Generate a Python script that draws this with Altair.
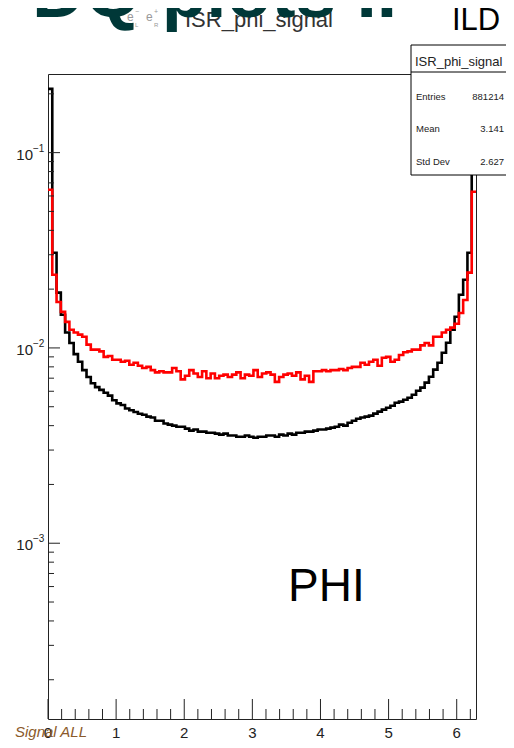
import altair as alt
import numpy as np
import pandas as pd

# ---------------- data ----------------
PHI_MAX = 2 * np.pi
N_BINS = 100

black_hist = [0.212, 0.0307, 0.0192, 0.0148, 0.0120, 0.0106, 0.0093, 0.0085, 0.0077, 0.0071,
              0.0066, 0.0063, 0.0061, 0.0059, 0.0057, 0.0054, 0.0052, 0.0051, 0.0049, 0.0048,
              0.0047, 0.0046, 0.00455, 0.00445, 0.0044, 0.00424, 0.00424, 0.0041, 0.00405, 0.0040,
              0.00395, 0.00395, 0.00386, 0.00377, 0.00382, 0.00373, 0.00373, 0.00368, 0.00368, 0.00364,
              0.0036, 0.00364, 0.00356, 0.00356, 0.00351, 0.00351, 0.00356, 0.00351, 0.00347, 0.00351,
              0.00351, 0.00356, 0.00356, 0.00351, 0.0036, 0.00356, 0.00364, 0.0036, 0.00368, 0.00368,
              0.00373, 0.00373, 0.00377, 0.00382, 0.00382, 0.00386, 0.00391, 0.00395, 0.00405, 0.0040,
              0.00414, 0.00424, 0.00434, 0.0044, 0.00445, 0.0045, 0.00461, 0.00472, 0.00483, 0.00494,
              0.00506, 0.00524, 0.00531, 0.00543, 0.00556, 0.00576, 0.00604, 0.00626, 0.00664, 0.00712,
              0.00774, 0.0084, 0.00945, 0.01063, 0.01239, 0.01444, 0.01872, 0.02234, 0.0307, 0.202]

red_hist = [0.0645, 0.0237, 0.0172, 0.0153, 0.0136, 0.0124, 0.0120, 0.0117, 0.0114, 0.0104,
            0.0098, 0.0098, 0.0096, 0.0090, 0.0091, 0.0087, 0.0087, 0.0085, 0.0086, 0.0082,
            0.0084, 0.0081, 0.0079, 0.0080, 0.0077, 0.0075, 0.0076, 0.0075, 0.0075, 0.0079,
            0.0076, 0.0069, 0.0072, 0.0077, 0.0074, 0.0071, 0.0076, 0.0070, 0.0074, 0.0070,
            0.0072, 0.0073, 0.0071, 0.0073, 0.0075, 0.0070, 0.0073, 0.0072, 0.0077, 0.0071,
            0.0074, 0.0075, 0.0073, 0.0067, 0.0071, 0.0073, 0.0074, 0.0072, 0.0075, 0.0069,
            0.0072, 0.0067, 0.0076, 0.0076, 0.0077, 0.0076, 0.0077, 0.0077, 0.0078, 0.0077,
            0.0079, 0.0080, 0.0080, 0.0084, 0.0082, 0.0085, 0.0087, 0.0081, 0.0089, 0.0090,
            0.0085, 0.0087, 0.0092, 0.0095, 0.0096, 0.0098, 0.0098, 0.0103, 0.0106, 0.0103,
            0.0114, 0.0114, 0.0120, 0.0124, 0.0127, 0.0133, 0.0151, 0.0176, 0.0243, 0.0631]

x_tick_labels = [0, 1, 2, 3, 4, 5, 6]
x_minor_ticks = [round(0.2 * k, 1) for k in range(32) if k % 5 != 0]
y_major_ticks = [0.001, 0.01, 0.1]
y_exponents = ["\u22123", "\u22122", "\u22121"]
y_minor_ticks = [m * 10.0 ** e for e in (-4, -3, -2, -1) for m in range(2, 10)]
Y_DOMAIN = [1.259e-4, 0.2527]
y_minor_ticks = [v for v in y_minor_ticks if Y_DOMAIN[0] < v < Y_DOMAIN[1]]

stats_names = ["Entries", "Mean", "Std Dev"]
stats_values = ["881214", "3.141", "2.627"]

# ---------------- layout ----------------
W, H = 428, 645
FONT = "Liberation Sans"
edges = np.linspace(0, PHI_MAX, N_BINS + 1)

def step_frame(vals):
    return pd.DataFrame({"phi": edges, "val": list(vals) + [vals[-1]]})

xs = alt.Scale(domain=[0, PHI_MAX], nice=False, zero=False)
ys = alt.Scale(type="log", domain=Y_DOMAIN, nice=False)

def hist_layer(vals, color):
    return alt.Chart(step_frame(vals)).mark_line(
        interpolate="step-after", color=color, strokeWidth=2.6, clip=True
    ).encode(x=alt.X("phi:Q", scale=xs, axis=None), y=alt.Y("val:Q", scale=ys, axis=None))

def label(text, x, y, size, color="#000", align="left", baseline="alphabetic",
          weight="normal", style="normal"):
    return alt.Chart(pd.DataFrame({"t": [text]})).mark_text(
        align=align, baseline=baseline, fontSize=size, color=color,
        fontWeight=weight, fontStyle=style, font=FONT
    ).encode(x=alt.value(x), y=alt.value(y), text="t:N")

black = hist_layer(black_hist, "#000000")
red = hist_layer(red_hist, "#ff0000")

tick_color = "#222"
x_major = alt.Chart(pd.DataFrame({"v": x_tick_labels})).mark_rule(color=tick_color, strokeWidth=1).encode(
    x=alt.X("v:Q", scale=xs, axis=None), y=alt.value(H), y2=alt.value(H - 20))
x_minor = alt.Chart(pd.DataFrame({"v": x_minor_ticks})).mark_rule(color=tick_color, strokeWidth=1).encode(
    x=alt.X("v:Q", scale=xs, axis=None), y=alt.value(H), y2=alt.value(H - 10))
y_major = alt.Chart(pd.DataFrame({"v": y_major_ticks})).mark_rule(color=tick_color, strokeWidth=1).encode(
    y=alt.Y("v:Q", scale=ys, axis=None), x=alt.value(0), x2=alt.value(12))
y_minor = alt.Chart(pd.DataFrame({"v": y_minor_ticks})).mark_rule(color=tick_color, strokeWidth=1).encode(
    y=alt.Y("v:Q", scale=ys, axis=None), x=alt.value(0), x2=alt.value(6))

x_labels = alt.Chart(pd.DataFrame({"v": x_tick_labels})).mark_text(
    fontSize=15, font=FONT, color="#222", baseline="middle", align="center"
).encode(x=alt.X("v:Q", scale=xs, axis=None), y=alt.value(H + 14), text="v:N")

ylab_df = pd.DataFrame({"v": y_major_ticks, "base": ["10"] * 3, "exp": y_exponents})
y_base = alt.Chart(ylab_df).mark_text(
    fontSize=15, font=FONT, color="#222", align="right", baseline="middle", dy=2
).encode(y=alt.Y("v:Q", scale=ys, axis=None), x=alt.value(-15), text="base:N")
y_exp = alt.Chart(ylab_df).mark_text(
    fontSize=10, font=FONT, color="#222", align="left", baseline="middle", dy=-4
).encode(y=alt.Y("v:Q", scale=ys, axis=None), x=alt.value(-15), text="exp:N")

# stats box
box = alt.Chart(pd.DataFrame({"t": [0]})).mark_rect(fill="white", stroke="#000", strokeWidth=1).encode(
    x=alt.value(363), x2=alt.value(475), y=alt.value(-29), y2=alt.value(101))
box_line = alt.Chart(pd.DataFrame({"t": [0]})).mark_rule(color="#000", strokeWidth=1).encode(
    x=alt.value(363), x2=alt.value(475), y=alt.value(-2))
stats_df = pd.DataFrame({"name": stats_names, "val": stats_values, "yy": [23, 55, 88]})
stats_n = alt.Chart(stats_df).mark_text(fontSize=9.5, font=FONT, color="#222", align="left").encode(
    x=alt.value(368), y=alt.Y("yy:Q", scale=None), text="name:N")
stats_v = alt.Chart(stats_df).mark_text(fontSize=9.5, font=FONT, color="#222", align="right").encode(
    x=alt.value(456), y=alt.Y("yy:Q", scale=None), text="val:N")
box_head = label("ISR_phi_signal", 367, -8, 13, color="#222")

title = label("ISR_phi_signal", 137, -47, 22, color="#333")
e1 = label("e", 79, -53, 12, color="#999")
e1s = label("L", 87, -47, 6, color="#999")
e1p = label("\u2212", 87, -60, 7, color="#999")
e2 = label("e", 98, -53, 12, color="#999")
e2s = label("R", 106, -47, 6, color="#999")
e2p = label("+", 106, -60, 7, color="#999")
ild = label("ILD", 404, -44, 31)
phi = label("PHI", 240, 527, 46)
sig = label("Signal ALL", -33, 663, 15, color="#8b5a2b", style="italic")
dq = label("DQ plots II", -16, -57, 73, color="#003838", weight="bold")

chart = alt.layer(
    black, red, x_minor, x_major, y_minor, y_major, x_labels, y_base, y_exp,
    box, box_line, box_head, stats_n, stats_v,
    title, e1, e1s, e1p, e2, e2s, e2p, ild, phi, sig, dq
).properties(
    width=W, height=H,
    autosize=alt.AutoSizeParams(type="none"),
    padding={"left": 40, "top": 66, "right": 30, "bottom": 21},
    background="white",
).configure_view(stroke="#222", strokeWidth=1)

chart.save("out.html", embed_options={"renderer": "svg", "actions": False})
